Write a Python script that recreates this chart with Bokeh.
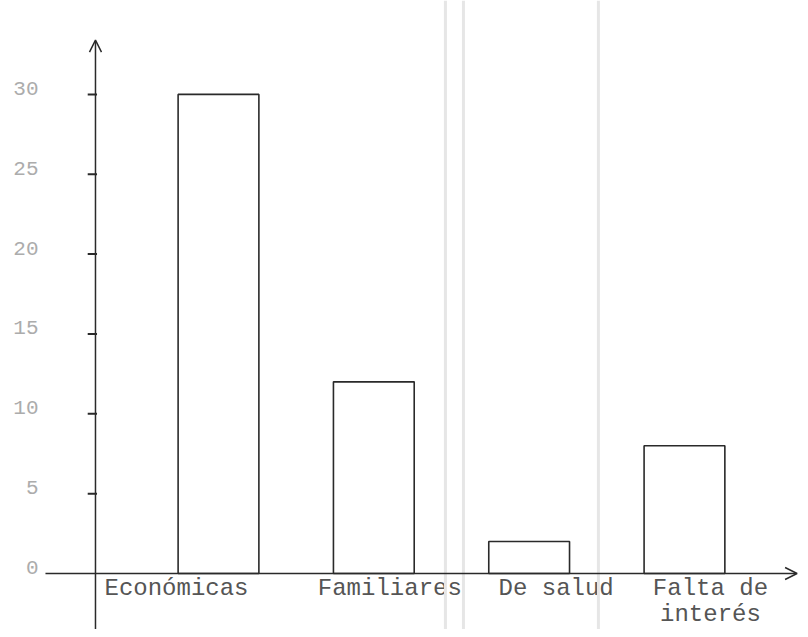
from bokeh.plotting import figure
from bokeh.models import Arrow, OpenHead, ColumnDataSource, Range1d, Span
from bokeh.core.properties import value
from bokeh.embed import file_html
from bokeh.resources import INLINE

# ---------------- data ----------------
categories = ["Económicas", "Familiares", "De salud", "Falta de\ninterés"]
counts = [30, 12, 2, 8]
y_ticks = [5, 10, 15, 20, 25, 30]
y_tick_values = [0, 5, 10, 15, 20, 25, 30]
y_tick_labels = ["0", "5", "10", "15", "20", "25", "30"]

# ---------------- layout / style ----------------
W, H = 800, 629
AXIS_X = -0.792          # where the hand-drawn vertical axis sits (x units)
X_AXIS_LEFT = -1.114
X_AXIS_RIGHT = 3.725
Y_AXIS_TOP = 33.4
Y_AXIS_BOTTOM = -3.51
BAR_WIDTH = 0.52
label_dx = [-42, 16, 27, 26]   # pixel offsets of the category labels
FONT = "Liberation Mono"
INK = "#2a2a2a"

xs = list(range(len(categories)))

p = figure(width=W, height=H, output_backend="svg", toolbar_location=None,
           x_range=Range1d(-1.4035, 3.747), y_range=Range1d(-3.507, 35.88),
           x_axis_location=None, y_axis_location=None,
           min_border=0, outline_line_color=None)
p.grid.visible = False
p.background_fill_color = "white"
p.border_fill_color = "white"

# faint scan streaks
for loc in [1.461, 1.577, 2.446]:
    p.add_layout(Span(location=loc, dimension="height", line_color="#e6e6e6", line_width=3))

# bars
p.vbar(x=xs, top=counts, bottom=0, width=BAR_WIDTH, fill_color="white",
       line_color=INK, line_width=1.6)

# axes (hand-drawn style with open arrow heads)
p.add_layout(Arrow(x_start=AXIS_X, y_start=Y_AXIS_BOTTOM, x_end=AXIS_X, y_end=Y_AXIS_TOP,
                   line_color=INK, line_width=1.5,
                   end=OpenHead(size=12, line_color=INK, line_width=1.5)))
p.add_layout(Arrow(x_start=X_AXIS_LEFT, y_start=0, x_end=X_AXIS_RIGHT, y_end=0,
                   line_color=INK, line_width=1.5,
                   end=OpenHead(size=12, line_color=INK, line_width=1.5)))

# tick dashes
p.segment(x0=[AXIS_X - 0.05] * len(y_ticks), x1=[AXIS_X + 0.01] * len(y_ticks),
          y0=y_ticks, y1=y_ticks, line_color=INK, line_width=2)

# tick labels
p.text(x=[AXIS_X] * len(y_tick_values), y=y_tick_values, text=y_tick_labels,
       x_offset=-57, y_offset=-6, text_align="right", text_baseline="middle",
       text_font=value(FONT), text_font_size="21px", text_color="#acacac")

# category labels
src = ColumnDataSource(dict(x=xs, y=[0] * len(xs), t=categories, dx=label_dx))
p.text(x="x", y="y", text="t", x_offset="dx", y_offset=2, source=src,
       text_align="center", text_baseline="top", text_line_height=0.95,
       text_font=value(FONT), text_font_size="24px", text_color="#555555")

open("out.html", "w").write(file_html(p, INLINE))
